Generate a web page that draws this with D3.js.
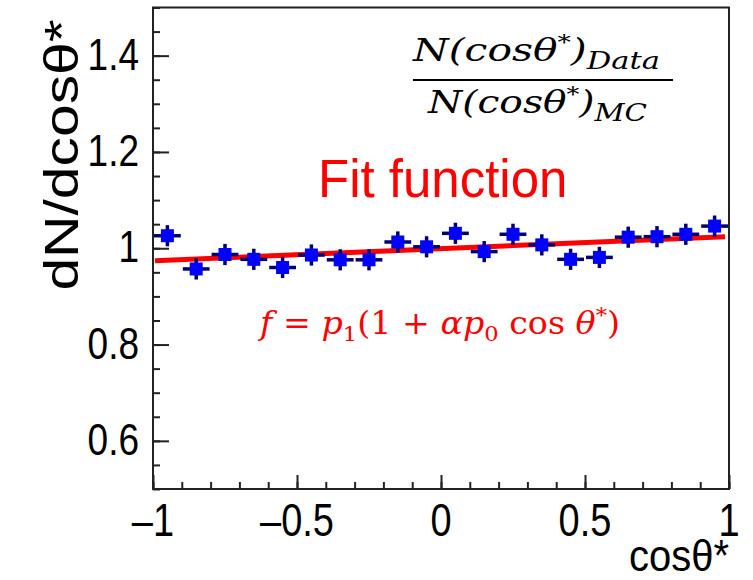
<!DOCTYPE html>
<html>
<head>
<meta charset="utf-8">
<script src="https://cdn.jsdelivr.net/npm/d3@7"></script>
<style>
  html, body { margin: 0; padding: 0; background: #fff; }
  svg { display: block; }
</style>
</head>
<body>
<script>
// Bin centres of cos(theta*) and the Data/MC ratio in each bin
const binCenters = [-0.95, -0.85, -0.75, -0.65, -0.55, -0.45, -0.35, -0.25, -0.15, -0.05,
                     0.05,  0.15,  0.25,  0.35,  0.45,  0.55,  0.65,  0.75,  0.85,  0.95];
const ratio      = [1.026, 0.957, 0.987, 0.977, 0.960, 0.986, 0.976, 0.976, 1.013, 1.003,
                    1.031, 0.993, 1.029, 1.007, 0.977, 0.981, 1.023, 1.024, 1.029, 1.046];
const ratioErr   = [0.022, 0.022, 0.022, 0.022, 0.022, 0.022, 0.022, 0.022, 0.022, 0.022,
                    0.022, 0.022, 0.022, 0.022, 0.022, 0.022, 0.022, 0.022, 0.022, 0.022];
const binHalfWidth = 0.05;

// Linear fit f = p1 (1 + alpha*p0 * cos)
const fitP1 = 0.999;
const fitAlphaP0 = 0.025;
const fitRange = [-1, 1];

// Axis ticks
const xMajorTicks = [-1, -0.5, 0, 0.5, 1];
const xMinorTicks = d3.range(-10, 11).map(i => i / 10);
const xTickLabels = ["\u20131", "\u20130.5", "0", "0.5", "1"];
const yMajorTicks = [0.6, 0.8, 1.0, 1.2, 1.4];
const yMinorTicks = d3.range(10, 31).map(i => i / 20);
const yTickLabels = ["0.6", "0.8", "1", "1.2", "1.4"];

const W = 753, H = 580;
const frame = { left: 153, right: 729, top: 7.5, bottom: 489 };

const svg = d3.select("body").append("svg")
  .attr("width", W).attr("height", H)
  .attr("viewBox", `0 0 ${W} ${H}`);

const x = d3.scaleLinear().domain([-1, 1]).range([frame.left, frame.right]);
const y = d3.scaleLinear().domain([0.5, 1.5]).range([frame.bottom, frame.top]);

const sans = "'Liberation Sans', Arial, Helvetica, sans-serif";
const mathFont = "'DejaVu Serif', 'Liberation Serif', serif";

// Plot frame
svg.append("rect")
  .attr("x", frame.left).attr("y", frame.top)
  .attr("width", frame.right - frame.left).attr("height", frame.bottom - frame.top)
  .attr("fill", "none").attr("stroke", "#222").attr("stroke-width", 2);

// Inward ticks on the x axis
const xAxisMinor = d3.axisTop(x).tickValues(xMinorTicks).tickSize(7).tickFormat("");
const xAxisMajor = d3.axisTop(x).tickValues(xMajorTicks).tickSize(14).tickFormat("");
[xAxisMinor, xAxisMajor].forEach(ax => {
  const g = svg.append("g").attr("transform", `translate(0,${frame.bottom})`).call(ax);
  g.select(".domain").remove();
  g.selectAll("line").attr("stroke", "#222").attr("stroke-width", 2);
});

// Inward ticks on the y axis
const yAxisMinor = d3.axisRight(y).tickValues(yMinorTicks).tickSize(7).tickFormat("");
const yAxisMajor = d3.axisRight(y).tickValues(yMajorTicks).tickSize(16).tickFormat("");
[yAxisMinor, yAxisMajor].forEach(ax => {
  const g = svg.append("g").attr("transform", `translate(${frame.left},0)`).call(ax);
  g.select(".domain").remove();
  g.selectAll("line").attr("stroke", "#222").attr("stroke-width", 2);
});

// Tick labels (glyphs drawn slightly tall, as in the figure)
svg.append("g").selectAll("text").data(xMajorTicks).join("text")
  .attr("transform", d => `translate(${x(d)},536) scale(1,1.2)`)
  .attr("text-anchor", "middle")
  .attr("font-family", sans).attr("font-size", 38)
  .attr("fill", "#000")
  .text((d, i) => xTickLabels[i]);

svg.append("g").selectAll("text").data(yMajorTicks).join("text")
  .attr("transform", d => `translate(139,${y(d) + 14}) scale(1,1.2)`)
  .attr("text-anchor", "end")
  .attr("font-family", sans).attr("font-size", 37)
  .attr("fill", "#000")
  .text((d, i) => yTickLabels[i]);

// Axis titles
svg.append("text")
  .attr("transform", `translate(${frame.right},571) scale(1,1.1)`)
  .attr("text-anchor", "end")
  .attr("font-family", sans).attr("font-size", 40)
  .text("cos\u03B8*");

svg.append("text")
  .attr("transform", `translate(78,155) rotate(-90) scale(1.2,1)`)
  .attr("text-anchor", "middle")
  .attr("font-family", sans).attr("font-size", 49)
  .text("dN/dcos\u03B8*");

// Fit line
const plot = svg.append("g");
plot.append("line")
  .attr("x1", x(fitRange[0]) + 2).attr("y1", y(fitP1 * (1 + fitAlphaP0 * fitRange[0])))
  .attr("x2", x(fitRange[1]) - 4).attr("y2", y(fitP1 * (1 + fitAlphaP0 * fitRange[1])))
  .attr("stroke", "#ff0000").attr("stroke-width", 5);

// Data points with error bars
const pts = binCenters.map((c, i) => ({ c, v: ratio[i], e: ratioErr[i] }));
const pg = plot.append("g");
pg.selectAll("line.h").data(pts).join("line").attr("class", "h")
  .attr("x1", d => x(d.c - binHalfWidth) + 1).attr("x2", d => x(d.c + binHalfWidth) - 1)
  .attr("y1", d => y(d.v)).attr("y2", d => y(d.v))
  .attr("stroke", "#00006e").attr("stroke-width", 3.5);
pg.selectAll("line.v").data(pts).join("line").attr("class", "v")
  .attr("x1", d => x(d.c)).attr("x2", d => x(d.c))
  .attr("y1", d => y(d.v - d.e)).attr("y2", d => y(d.v + d.e))
  .attr("stroke", "#00006e").attr("stroke-width", 3.5);
pg.selectAll("rect").data(pts).join("rect")
  .attr("x", d => x(d.c) - 6.5).attr("y", d => y(d.v) - 6.5)
  .attr("width", 13).attr("height", 13)
  .attr("fill", "#0000ff");

// Ratio label: N(cos)_Data / N(cos)_MC
const frac = svg.append("g").attr("font-family", mathFont).attr("font-style", "italic").attr("fill", "#000");
const num = frac.append("text").attr("x", 413).attr("y", 61).attr("font-size", 32)
  .attr("textLength", 247).attr("lengthAdjust", "spacingAndGlyphs");
num.append("tspan").text("N(cos\u03B8");
num.append("tspan").attr("dy", -12).attr("font-size", 21).text("*");
num.append("tspan").attr("dy", 12).text(")");
num.append("tspan").attr("dy", 8).attr("font-size", 24).text("Data");
frac.append("line").attr("x1", 413).attr("x2", 673).attr("y1", 80).attr("y2", 80)
  .attr("stroke", "#000").attr("stroke-width", 2);
const den = frac.append("text").attr("x", 428).attr("y", 113).attr("font-size", 32)
  .attr("textLength", 219).attr("lengthAdjust", "spacingAndGlyphs");
den.append("tspan").text("N(cos\u03B8");
den.append("tspan").attr("dy", -12).attr("font-size", 21).text("*");
den.append("tspan").attr("dy", 12).text(")");
den.append("tspan").attr("dy", 8).attr("font-size", 24).text("MC");

// Fit labels
svg.append("text")
  .attr("transform", "translate(318,197) scale(1,1.05)")
  .attr("font-family", sans).attr("font-size", 51)
  .attr("fill", "#ff0000")
  .text("Fit function");

const fl = svg.append("text").attr("x", 260).attr("y", 334)
  .attr("font-family", mathFont).attr("font-size", 31).attr("fill", "#ff0000")
  .attr("textLength", 360).attr("lengthAdjust", "spacingAndGlyphs");
fl.append("tspan").attr("font-style", "italic").text("f");
fl.append("tspan").text(" = ");
fl.append("tspan").attr("font-style", "italic").text("p");
fl.append("tspan").attr("dy", 7).attr("font-size", 21).text("1");
fl.append("tspan").attr("dy", -7).text("(1 + ");
fl.append("tspan").attr("font-style", "italic").text("\u03B1p");
fl.append("tspan").attr("dy", 7).attr("font-size", 21).text("0");
fl.append("tspan").attr("dy", -7).text(" cos ");
fl.append("tspan").attr("font-style", "italic").text("\u03B8");
fl.append("tspan").attr("dy", -12).attr("font-size", 21).text("*");
fl.append("tspan").attr("dy", 12).text(")");
</script>
</body>
</html>
